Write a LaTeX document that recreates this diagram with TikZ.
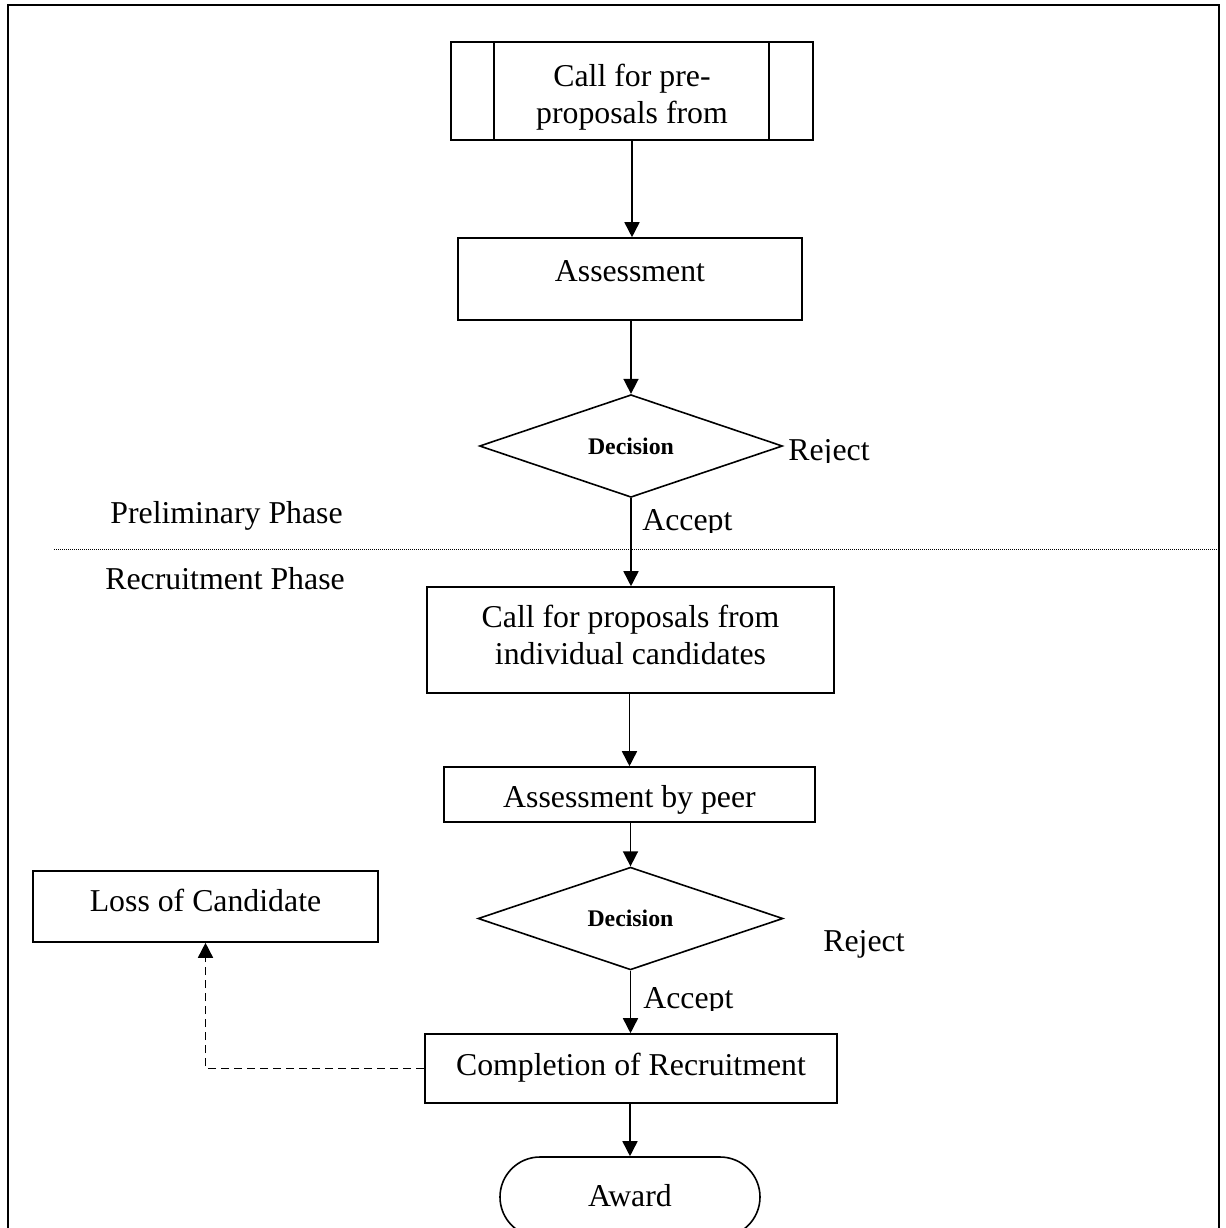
\documentclass[tikz,border=0pt]{standalone}
\usepackage{fontspec}
\setmainfont{Liberation Serif}
\usetikzlibrary{arrows.meta,shapes.geometric,shapes.misc,calc}
\begin{document}
\begin{tikzpicture}[x=0.5pt,y=-0.5pt,
  box/.style={draw,line width=0.8pt,inner sep=0pt},
  txt/.style={inner sep=0pt,anchor=base,font=\fontsize{15.9}{18}\selectfont},
  dec/.style={draw,diamond,line width=0.8pt,inner sep=0pt,font=\fontsize{11.9}{14}\selectfont\bfseries},
  lbl/.style={inner sep=0pt,anchor=base west,font=\fontsize{15.9}{18}\selectfont},
  arr/.style={line width=0.8pt,-{Triangle[length=7.5pt,width=7.5pt]}},
  dashedarr/.style={arr,dash pattern=on 4pt off 2.5pt},
]
\useasboundingbox (0,0) rectangle (1226,1228);
\clip (0,0) rectangle (1226,1228);

% frame
\coordinate (f1) at (8,1240);
\coordinate (f2) at (8,5);
\coordinate (f3) at (1219,5);
\coordinate (f4) at (1219,1240);
\draw[line width=1.1pt] (f1) -- (f2) -- (f3) -- (f4);

% boxes
\node[box,minimum width=181pt,minimum height=49pt] (b1) at (632,91) {};
\draw[line width=0.8pt] ($(b1.north west)+(44,0)$) -- ($(b1.south west)+(44,0)$);
\draw[line width=0.8pt] ($(b1.north east)+(-45,0)$) -- ($(b1.south east)+(-45,0)$);
\node[txt] (t1a) at (632,86) {Call for pre-};
\node[txt] (t1b) at (632,123) {proposals from};

\node[box,minimum width=172pt,minimum height=41pt] (b2) at (630,279) {};
\node[txt] (t2) at (630,281) {Assessment};

\node[dec,minimum width=151.5pt,minimum height=46pt] (d1) at (631,446) {Decision};

\node[box,minimum width=203.5pt,minimum height=53pt] (b3) at (630.5,640) {};
\node[txt] (t3a) at (630.5,627) {Call for proposals from};
\node[txt] (t3b) at (630.5,664) {individual candidates};

\node[box,minimum width=185.5pt,minimum height=27.5pt] (b4) at (629.5,794.5) {};
\node[txt] (t4) at (629.5,807) {Assessment by peer};

\node[dec,minimum width=152.5pt,minimum height=45.5pt] (d2) at (630.5,918.5) {Decision};

\node[box,minimum width=206pt,minimum height=34.5pt] (b5) at (631,1068.5) {};
\node[txt] (t5) at (631,1075) {Completion of Recruitment};

\node[box,rounded rectangle,minimum width=130pt,minimum height=40pt] (aw) at (630,1197) {};
\node[txt] (t6) at (630,1206) {Award};

\node[box,minimum width=172.5pt,minimum height=35.5pt] (loss) at (205.5,906.5) {};
\node[txt] (t7) at (205.5,911) {Loss of Candidate};

% labels
\begin{scope}
  \clip (780,420) rectangle (900,462);
  \node[lbl] (rej1) at (788,460) {Reject};
\end{scope}
\begin{scope}
  \clip (635,490) rectangle (760,532);
  \node[lbl] (acc1) at (642,530) {Accept};
\end{scope}
\node[lbl] (rej2) at (823,951) {Reject};
\begin{scope}
  \clip (635,970) rectangle (760,1010);
  \node[lbl] (acc2) at (643,1008) {Accept};
\end{scope}
\node[lbl] (pre) at (110,523) {Preliminary Phase};
\node[lbl] (rec) at (105,589) {Recruitment Phase};

% dotted separator
\coordinate (dl) at (54,549);
\coordinate (dr) at (1219,549);
\draw[line width=0.5pt,dash pattern=on 0.5pt off 0.5pt] (dl) -- (dr);

% connectors
\draw[arr] (b1.south) -- (b1.south |- b2.north);
\draw[arr] (d1.north |- b2.south) -- (d1.north);
\draw[arr] (d1.south) -- (d1.south |- b3.north);
\draw[arr] (b4.north |- b3.south) -- (b4.north);
\draw[arr] (d2.north |- b4.south) -- (d2.north);
\draw[arr] (d2.south) -- (d2.south |- b5.north);
\draw[arr] (aw.north |- b5.south) -- (aw.north);
\draw[dashedarr] (b5.west) -| (loss.south);
\end{tikzpicture}
\end{document}
